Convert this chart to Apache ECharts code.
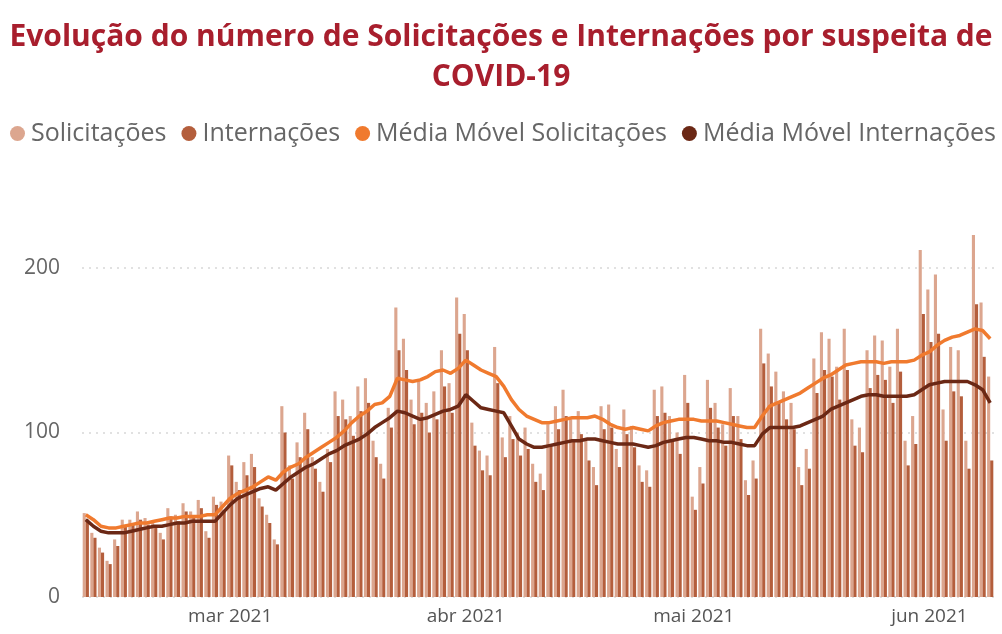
<!DOCTYPE html>
<html>
<head>
<meta charset="utf-8">
<script src="https://cdn.jsdelivr.net/npm/echarts@6/dist/echarts.min.js"></script>
<style>
  html, body { margin: 0; padding: 0; background: #fff; }
  #chart { width: 1002px; height: 634px; }
</style>
</head>
<body>
<div id="chart"></div>
<script>
// dias de 10/02/2021 a 09/06/2021
var startDate = new Date(2021, 1, 10);
var nDays = 120;
var monthNames = ["jan", "fev", "mar", "abr", "mai", "jun", "jul", "ago", "set", "out", "nov", "dez"];

var solicitacoes = [
  51, 39, 30, 22, 35, 47, 47, 52, 48, 45, 39, 54, 50, 57, 52, 59, 40, 61, 58, 86,
  70, 82, 87, 60, 50, 35, 116, 80, 94, 112, 85, 70, 90, 125, 120, 110, 128, 133, 95, 81,
  115, 176, 157, 120, 132, 118, 125, 150, 130, 182, 172, 106, 89, 86, 152, 97, 110, 100, 103, 81,
  75, 105, 116, 126, 108, 113, 95, 79, 116, 117, 90, 114, 104, 80, 77, 126, 128, 110, 100, 135,
  61, 79, 132, 118, 105, 127, 110, 71, 83, 163, 148, 137, 125, 118, 79, 90, 145, 161, 157, 140,
  163, 108, 103, 150, 159, 156, 140, 163, 95, 110, 211, 187, 196, 114, 152, 150, 95, 220, 179, 134
];
var internacoes = [
  47, 36, 27, 20, 31, 43, 44, 47, 44, 42, 35, 49, 46, 52, 48, 54, 36, 56, 53, 80,
  65, 74, 79, 55, 45, 32, 100, 72, 85, 102, 78, 64, 82, 110, 108, 98, 113, 118, 85, 72,
  103, 150, 138, 105, 112, 100, 108, 128, 112, 160, 150, 92, 77, 74, 130, 85, 96, 86, 90, 70,
  65, 92, 102, 110, 95, 99, 83, 68, 102, 103, 79, 99, 91, 70, 67, 110, 112, 96, 87, 118,
  53, 69, 115, 103, 92, 110, 96, 62, 72, 142, 128, 118, 108, 102, 68, 78, 124, 138, 134, 120,
  138, 92, 88, 127, 135, 132, 118, 137, 80, 93, 172, 155, 160, 95, 125, 122, 78, 178, 146, 83
];
var mediaSolicitacoes = [
  50, 47, 43, 42, 42, 43, 44, 45, 45, 46, 47, 48, 48, 49, 49, 49, 50, 50, 55, 60,
  63, 65, 67, 70, 73, 71, 76, 79, 81, 85, 88, 91, 94, 97, 101, 106, 110, 113, 117, 118,
  122, 133, 132, 131, 132, 134, 137, 138, 136, 139, 144, 141, 138, 136, 134, 128, 120, 114, 110, 108,
  106, 106, 107, 108, 109, 109, 109, 110, 108, 105, 103, 102, 103, 102, 101, 104, 106, 107, 108, 108,
  108, 107, 107, 107, 106, 105, 104, 103, 103, 110, 116, 118, 120, 122, 124, 127, 130, 133, 135, 138,
  141, 142, 143, 143, 143, 142, 143, 143, 143, 144, 147, 149, 153, 156, 158, 159, 161, 163, 162, 157
];
var mediaInternacoes = [
  47, 43, 40, 39, 39, 39, 40, 41, 42, 43, 43, 44, 45, 45, 46, 46, 46, 46, 51, 56,
  60, 62, 64, 66, 67, 65, 69, 73, 76, 79, 81, 84, 87, 89, 92, 94, 96, 99, 103, 106,
  109, 113, 112, 110, 108, 109, 111, 113, 114, 116, 123, 119, 115, 114, 113, 112, 104, 96, 93, 91,
  91, 92, 93, 94, 95, 95, 96, 96, 95, 94, 93, 93, 93, 92, 91, 92, 94, 95, 96, 97,
  97, 96, 95, 95, 94, 94, 93, 92, 92, 99, 103, 103, 103, 103, 104, 106, 108, 110, 114, 116,
  118, 120, 122, 123, 123, 122, 122, 122, 122, 123, 126, 129, 130, 131, 131, 131, 131, 129, 126, 118
];
var yTicks = [0, 100, 200];

var dias = [];
for (var i = 0; i < nDays; i++) {
  var d = new Date(startDate.getTime());
  d.setDate(startDate.getDate() + i);
  dias.push(d.getFullYear() + "-" + String(d.getMonth() + 1).padStart(2, "0") + "-" + String(d.getDate()).padStart(2, "0"));
}

var myChart = echarts.init(document.getElementById("chart"));
var font = "'Open Sans', 'Noto Sans', sans-serif";

var option = {
  backgroundColor: "#fff",
  animation: false,
  title: {
    text: "Evolução do número de Solicitações e Internações por suspeita de\nCOVID-19",
    left: "center",
    top: 12,
    textStyle: {
      color: "#A81E2D",
      fontFamily: font,
      fontWeight: "bold",
      fontSize: 30,
      lineHeight: 40
    }
  },
  legend: {
    left: 10,
    top: 121,
    width: 992,
    padding: 0,
    icon: "circle",
    itemWidth: 15,
    itemHeight: 15,
    itemGap: 15,
    textStyle: {
      color: "#666",
      fontFamily: font,
      fontSize: 25,
      padding: [0, 0, 0, 1]
    },
    data: ["Solicitações", "Internações", "Média Móvel Solicitações", "Média Móvel Internações"]
  },
  grid: {
    left: 82,
    right: 8,
    top: 268,
    bottom: 37
  },
  xAxis: {
    type: "category",
    data: dias,
    axisLine: { show: false },
    axisTick: { show: false },
    axisLabel: {
      color: "#555",
      fontFamily: font,
      fontSize: 19,
      margin: 10,
      interval: function (index, value) {
        return value.slice(8) === "01";
      },
      formatter: function (value) {
        return monthNames[parseInt(value.slice(5, 7), 10) - 1] + " " + value.slice(0, 4);
      }
    }
  },
  yAxis: {
    type: "value",
    min: yTicks[0],
    max: yTicks[yTicks.length - 1],
    interval: 100,
    axisLine: { show: false },
    axisTick: { show: false },
    axisLabel: {
      color: "#666",
      fontFamily: font,
      fontSize: 21,
      margin: 22
    },
    splitLine: {
      lineStyle: { color: "#d8d8d8", type: [2, 5], width: 1.5 }
    }
  },
  series: [
    {
      name: "Solicitações",
      type: "bar",
      data: solicitacoes,
      clip: false,
      barGap: "0%",
      barCategoryGap: "18%",
      itemStyle: { color: "#DCA68F" }
    },
    {
      name: "Internações",
      type: "bar",
      data: internacoes,
      clip: false,
      itemStyle: { color: "#B45E3C" }
    },
    {
      name: "Média Móvel Solicitações",
      type: "line",
      data: mediaSolicitacoes,
      clip: false,
      symbol: "none",
      z: 5,
      lineStyle: { color: "#F07A2E", width: 3.5 },
      itemStyle: { color: "#F07A2E" }
    },
    {
      name: "Média Móvel Internações",
      type: "line",
      data: mediaInternacoes,
      clip: false,
      symbol: "none",
      z: 6,
      lineStyle: { color: "#6B2815", width: 3.5 },
      itemStyle: { color: "#6B2815" }
    }
  ]
};

myChart.setOption(option, true);
</script>
</body>
</html>
